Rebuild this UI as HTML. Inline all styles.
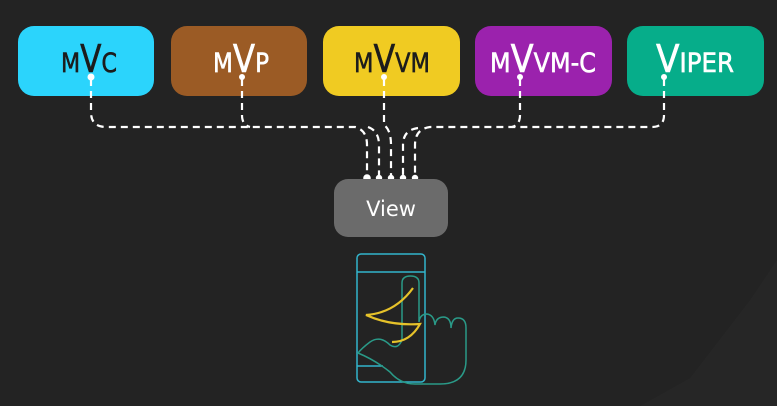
<!DOCTYPE html>
<html><head><meta charset="utf-8"><style>
html,body{margin:0;padding:0;background:#232323;}
svg{display:block;}
text{font-family:"DejaVu Sans","Liberation Sans",sans-serif;}
</style></head><body>
<svg width="777" height="406" viewBox="0 0 777 406" xmlns="http://www.w3.org/2000/svg">
<rect width="777" height="406" fill="#232323"/>
<polygon points="777,260 777,406 640,406 690,378 750,300" fill="#262626"/>
<rect x="18" y="26" width="136" height="70" rx="16" fill="#2bd4fc"/>
<rect x="171" y="26" width="136" height="70" rx="16" fill="#9b5b25"/>
<rect x="323" y="26" width="137" height="70" rx="16" fill="#f0cb22"/>
<rect x="475" y="26" width="137" height="70" rx="16" fill="#9b22ad"/>
<rect x="627" y="26" width="137" height="70" rx="16" fill="#06ad8a"/>
<g font-size="27" text-anchor="middle" font-family="DejaVu Sans Condensed, DejaVu Sans, sans-serif" stroke-width="0.6">
<text x="89" y="72" fill="#1c1c1c" stroke="#1c1c1c" textLength="56" lengthAdjust="spacingAndGlyphs">M<tspan font-size="38">V</tspan>C</text>
<text x="241" y="72" fill="#ffffff" stroke="#ffffff" textLength="56" lengthAdjust="spacingAndGlyphs">M<tspan font-size="38">V</tspan>P</text>
<text x="392" y="72" fill="#1c1c1c" stroke="#1c1c1c" textLength="76" lengthAdjust="spacingAndGlyphs">M<tspan font-size="38">V</tspan>VM</text>
<text x="543" y="72" fill="#ffffff" stroke="#ffffff" textLength="106" lengthAdjust="spacingAndGlyphs">M<tspan font-size="38">V</tspan>VM-C</text>
<text x="695" y="72" fill="#ffffff" stroke="#ffffff" textLength="78" lengthAdjust="spacingAndGlyphs"><tspan font-size="38">V</tspan>IPER</text>
</g>
<g fill="none" stroke="#fff" stroke-width="2.2" stroke-dasharray="7,5">
<path d="M91 79 V112 Q91 127 106 127 H355 Q367 130 367 145 V178"/>
<path d="M242 79 V115 Q242 125 250 127"/>
<path d="M368 127 Q379 131 379 145 V178"/>
<path d="M384 79 V125 Q391 130 391 145 V178"/>
<path d="M664 79 V115 Q664 127 652 127 H430 Q415 129 415 145 V178"/>
<path d="M520 79 V115 Q520 125 512 127"/>
<path d="M418 128 Q403 130 403 145 V178"/>
</g>
<g fill="#fff">
<circle cx="91" cy="77" r="3.5"/><circle cx="242" cy="77" r="3"/><circle cx="384" cy="77" r="3"/><circle cx="520" cy="77" r="3"/><circle cx="664" cy="77" r="3"/>
<circle cx="367" cy="178" r="3.8"/><circle cx="379" cy="178" r="3.2"/><circle cx="391" cy="178" r="3.2"/><circle cx="403" cy="178" r="3.2"/><circle cx="415" cy="178" r="3.2"/>
</g>
<rect x="334" y="179" width="114" height="58" rx="14" fill="#6b6b6b"/>
<text x="391" y="216" fill="#fff" font-size="21" text-anchor="middle">View</text>
<g fill="none" stroke-width="1.5">
<rect x="357" y="254" width="68" height="128" rx="4" stroke="#33b5cc"/>
<line x1="357" y1="272" x2="425" y2="272" stroke="#33b5cc"/>
<line x1="357" y1="366" x2="383" y2="366" stroke="#33b5cc"/>
<path d="M419 322 V283 Q419 276 410.5 276 Q402 276 402 283 V340 Q398 350 390 345 Q380 335 370 342 Q362 348 358 353 Q375 360 390 372 Q400 384 415 384 H440 Q466 384 466 360 V328 Q466 318 458 318 Q452 318 451 328 Q451 318 444 317 Q436 317 435 325 Q434 315 427 314 Q420 314 419 322" stroke="#2a9a88"/>
<path d="M413 288 Q395 313 366 315 Q390 326 420 324 Q410 342 392 342" stroke="#e6c22a" stroke-width="2.2"/>
</g>
</svg>
</body></html>
